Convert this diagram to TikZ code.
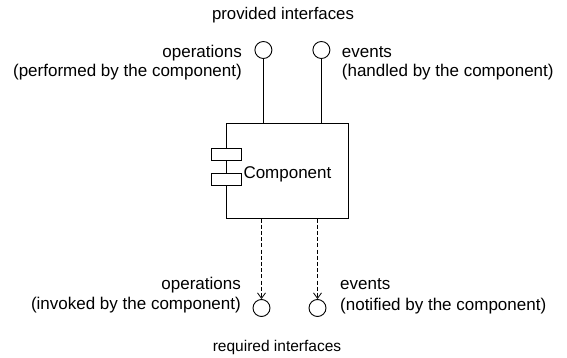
\documentclass[tikz,border=0pt]{standalone}
\usepackage{fontspec}
\setmainfont{Liberation Sans}
\usetikzlibrary{arrows.meta}

\tikzset{
  lbl/.style={inner sep=0pt, font=\fontsize{17}{20}\selectfont},
  iface/.style={circle, draw, line width=0.9pt, minimum size=17pt, inner sep=0pt},
  compbox/.style={rectangle, draw, line width=1pt, minimum width=121.3pt, minimum height=94pt, inner sep=0pt},
  portbox/.style={rectangle, draw, fill=white, line width=1pt, minimum width=29.3pt, minimum height=11.5pt, inner sep=0pt},
  provided/.style={line width=0.9pt},
  required/.style={line width=0.9pt, dash pattern=on 4pt off 2.2pt, -{Straight Barb[length=5.5pt,width=8pt,line width=0.8pt]}}
}

\begin{document}
\begin{tikzpicture}[x=1pt, y=-1pt]
  \useasboundingbox (0,0) rectangle (567,358);

  % component body with its two ports
  \node[compbox] (comp) at (287.35,171) {};
  \node[portbox] (portA) at (226.4,154.5) {};
  \node[portbox] (portB) at (226.4,179.5) {};
  \node[lbl, anchor=base west] (compText) at (243.3,178.5) {Component};

  % provided interfaces (lollipops on top)
  \node[lbl, anchor=base, font=\fontsize{16.8}{20}\selectfont] (provTitle) at (283,20) {provided interfaces};
  \node[iface] (provOp) at (263.4,50) {};
  \node[iface] (provEv) at (321.4,50) {};
  \draw[provided] (provOp) -- (comp.north -| provOp);
  \draw[provided] (provEv) -- (comp.north -| provEv);

  \node[lbl, anchor=base east] (provOpA) at (242,57.5) {operations};
  \node[lbl, anchor=base east] (provOpB) at (242,77) {(performed by the component)};
  \node[lbl, anchor=base west] (provEvA) at (341.7,58) {events};
  \node[lbl, anchor=base west] (provEvB) at (341.7,77) {(handled by the component)};

  % required interfaces (dependencies below)
  \node[iface] (reqOp) at (261.5,308) {};
  \node[iface] (reqEv) at (317.5,308) {};
  \draw[required] (comp.south -| reqOp) -- (reqOp);
  \draw[required] (comp.south -| reqEv) -- (reqEv);

  \node[lbl, anchor=base east] (reqOpA) at (241,289) {operations};
  \node[lbl, anchor=base east] (reqOpB) at (241,309.5) {(invoked by the component)};
  \node[lbl, anchor=base west] (reqEvA) at (340,289.5) {events};
  \node[lbl, anchor=base west] (reqEvB) at (340,310) {(notified by the component)};

  \node[lbl, anchor=base, font=\fontsize{15.5}{19}\selectfont] (reqTitle) at (277,351) {required interfaces};
\end{tikzpicture}
\end{document}
